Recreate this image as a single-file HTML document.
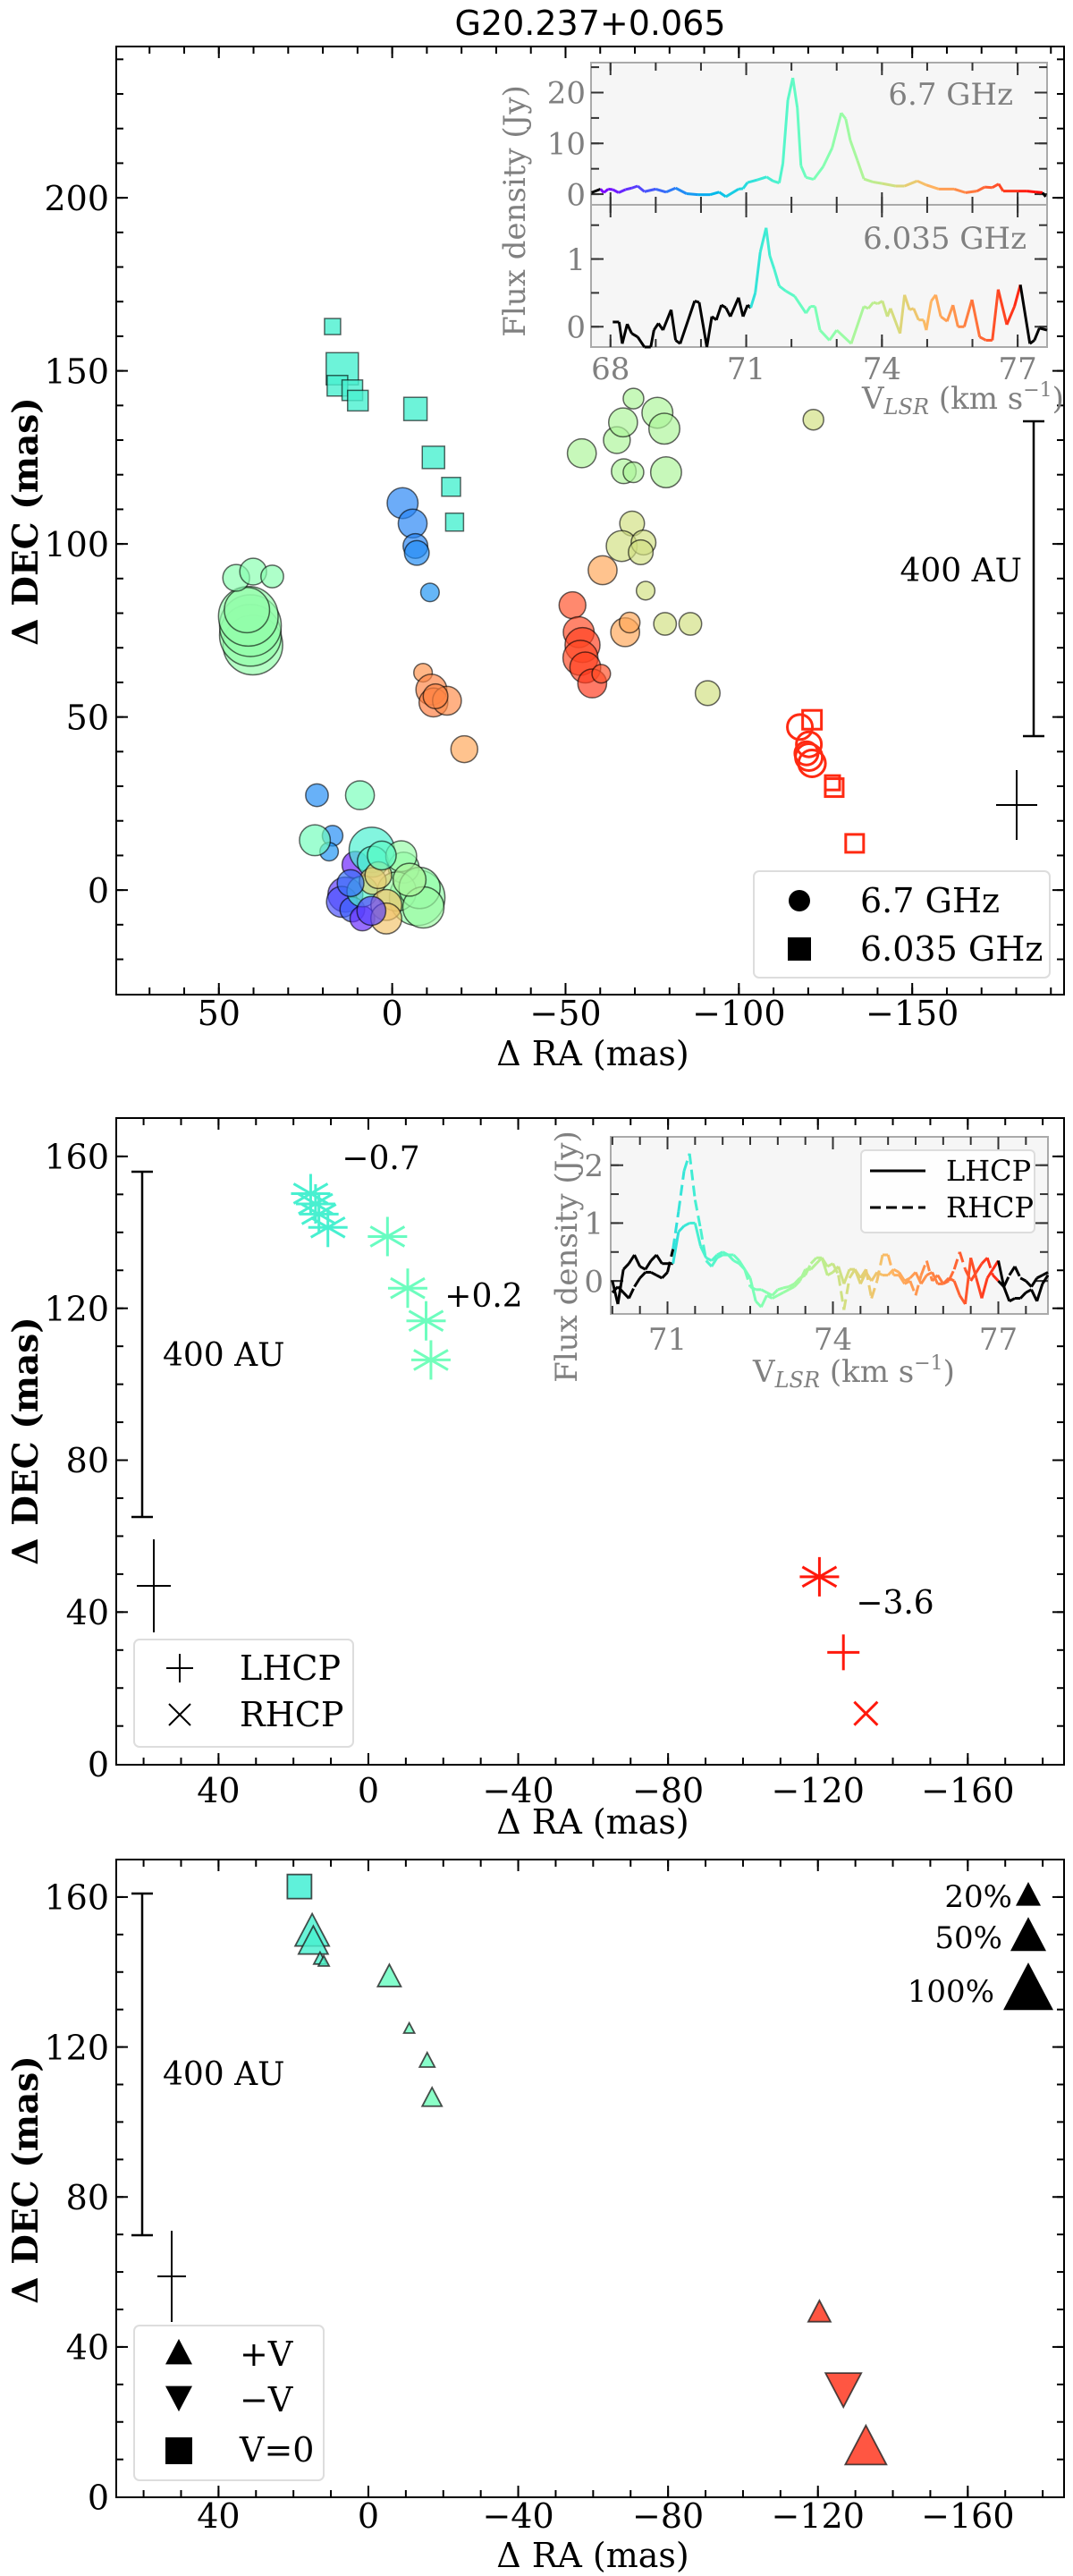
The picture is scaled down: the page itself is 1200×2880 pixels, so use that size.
<!DOCTYPE html>
<html><head><meta charset="utf-8"><title>G20.237+0.065 maser maps</title>
<style>
html,body{margin:0;padding:0;background:#fff;}
svg{display:block;}
text{font-family:"DejaVu Serif","Liberation Serif",serif;}
</style></head>
<body>
<svg id="fig" xmlns="http://www.w3.org/2000/svg" width="1200" height="2880" viewBox="0 0 1200 2880">
<rect x="0" y="0" width="1200" height="2880" fill="#fff"/>
<text x="660" y="39" font-size="38" text-anchor="middle" style="font-family:'DejaVu Sans','Liberation Sans',sans-serif">G20.237+0.065</text>
<text x="663" y="1191" font-size="38" text-anchor="middle">Δ RA (mas)</text>
<text transform="translate(42,583) rotate(-90)" font-size="39" font-weight="bold" text-anchor="middle">Δ DEC (mas)</text>
<text x="663" y="2050" font-size="38" text-anchor="middle">Δ RA (mas)</text>
<text transform="translate(42,1611) rotate(-90)" font-size="39" font-weight="bold" text-anchor="middle">Δ DEC (mas)</text>
<text x="663" y="2870" font-size="38" text-anchor="middle">Δ RA (mas)</text>
<text transform="translate(42,2437) rotate(-90)" font-size="39" font-weight="bold" text-anchor="middle">Δ DEC (mas)</text>
</svg>
<script>
// ---------- data: panel 1 (6.7 GHz circles) ----------
const c1RA  = [40.2,40.9,40.9,41.5,41.9,45.0,40.1,34.6, -3.0,-5.9,-6.7,-7.1,-10.9,21.7,17.2,18.2, 22.3,9.3, -8.9,-11.3,-11.9,-15.8,-12.5, -52.0,-53.8,-54.9,-54.3,-55.7,-57.7,-60.3, -54.7,-64.8,-66.6,-69.6,-76.5,-78.5,-66.8,-69.6,-79.0, -69.2,-66.2,-72.5,-71.7,-73.1,-78.7,-86.0,-91.0,-121.5, -60.7,-67.2,-68.5,-20.8, 13.5,14.5,11.5,10.6,8.6,8.6,5.9,5.6,-7.2,-3.3,-1.3,5.6,1.7,1.7,-2.6,4.0,-7.9,12.0,-9.0,6.0,3.0,-5.0];
const c1DEC = [70.8,73.6,76.4,79.1,80.9,90.2,92.0,90.6, 111.8,105.9,99.4,97.4,86.0,27.4,15.7,11.1, 14.4,27.4, 62.8,57.9,54.2,54.7,56.0, 82.3,74.5,70.8,67.1,64.3,59.7,62.5, 126.2,130.0,135.1,142.0,137.9,133.3,121.0,120.7,120.7, 105.9,99.4,100.4,97.6,86.5,76.9,76.9,56.9,135.9, 92.4,74.5,77.3,40.7, -1.3,-3.4,-5.6,7.3,-8.2,-0.4,11.6,8.2,-2.2,6.5,-0.4,2.6,-4.3,-8.2,9.8,4.3,0.6,2.0,-5.0,-6.0,10.0,3.0];
const c1Size= [29,30,30,29,22,13,13,11, 15,14,12,12,9,11,10,9, 15,14, 9,15,14,14,12, 13,15,17,17,15,14,9, 14,13,14,10,15,15,12,10,15, 12,15,12,12,9,11,11,12,10, 14,14,10,13, 17,15,12,13,12,15,22,15,27,15,19,13,15,15,15,13,20,13,20,14,14,16];
const c1Vel = [73.0,73.0,73.0,73.0,73.0,72.8,72.8,72.8, 69.5,69.5,69.5,69.6,69.7,69.6,69.6,69.7, 72.4,72.5, 75.6,75.8,75.9,75.7,75.8, 76.5,76.6,76.7,76.6,76.7,76.8,76.5, 73.5,73.5,73.5,73.5,73.5,73.5,73.5,73.5,73.5, 74.2,74.2,74.2,74.2,74.2,74.2,74.2,74.2,74.2, 75.3,75.3,75.3,75.3, 68.5,68.8,69.0,68.2,68.3,71.8,71.6,71.7,73.0,73.0,73.2,74.5,74.8,74.8,73.1,74.6,73.0,69.2,73.2,68.6,72.0,73.5];
// 6.035 GHz squares
const s1RA  = [17.2,14.4,15.8,11.5,9.9,-6.7,-11.9,-17.0,-18.0];
const s1DEC = [162.8,150.6,145.7,144.4,141.4,139.0,125.0,116.5,106.3];
const s1Size= [18,36,23,23,23,26,25,21,20];
const s1Vel = [71.6,71.6,71.6,71.6,71.6,71.6,71.6,71.6,71.6];
// red open markers
const rcRA  = [-117.6,-120.2,-120.2,-121.1,-119.5];
const rcDEC = [47.1,42.1,38.4,36.6,39.5];
const rcSize= [14,14,15,15,13];
const rsRA  = [-121.1,-127.5,-133.4,-127.0];
const rsDEC = [49.2,29.6,13.5,31.0];
const rsSize= [21,20,20,16];
// 6.7 GHz spectrum
const sp67V = [67.58,67.78,67.85,67.95,68.05,68.18,68.33,68.47,68.6,68.75,69.0,69.23,69.44,69.68,69.93,70.2,70.4,70.55,70.83,70.93,71.03,71.24,71.45,71.59,71.73,71.81,71.92,72.03,72.13,72.21,72.32,72.49,72.7,72.9,73.1,73.2,73.3,73.46,73.6,73.8,74.0,74.3,74.5,74.78,74.98,75.26,75.6,75.85,76.1,76.27,76.44,76.58,76.68,77.0,77.2,77.41,77.55,77.62];
const sp67F = [0.3,1.0,0.3,1.0,0.9,0.3,0.9,1.2,1.6,0.5,1.0,0.4,1.2,0.1,-0.1,-0.1,0.4,-0.5,1.0,1.1,2.3,2.8,3.4,2.6,2.2,6.0,18.5,22.9,17.0,5.6,3.3,2.9,5.4,9.1,16.0,14.8,10.6,6.6,3.0,2.4,2.1,1.6,1.6,2.6,1.8,1.0,1.0,0.3,0.6,1.4,1.3,2.0,0.6,0.6,0.6,0.4,0.3,-0.5];
// 6.035 GHz spectrum
const sp60V = [68.05,68.19,68.26,68.37,68.47,68.6,68.75,68.89,68.96,69.06,69.16,69.34,69.44,69.54,69.86,69.96,70.13,70.24,70.34,70.45,70.55,70.65,70.83,70.93,71.03,71.1,71.2,71.31,71.44,71.52,71.62,71.73,71.87,72.07,72.32,72.42,72.52,72.63,72.84,73.0,73.32,73.6,73.7,73.81,73.91,74.01,74.12,74.19,74.4,74.5,74.61,74.7,74.81,74.92,74.98,75.09,75.19,75.3,75.44,75.57,75.68,75.82,75.99,76.16,76.3,76.44,76.57,76.76,76.93,77.06,77.27,77.37,77.48,77.65];
const sp60F = [0.07,0.07,-0.25,0.04,-0.1,-0.15,-0.3,-0.3,-0.05,0.05,-0.05,0.25,-0.2,-0.25,0.38,0.36,-0.3,0.15,0.1,0.32,0.28,0.15,0.43,0.15,0.32,0.28,0.5,1.1,1.46,1.05,0.85,0.6,0.53,0.45,0.2,0.3,0.3,-0.05,-0.2,-0.05,-0.25,0.3,0.27,0.36,0.34,0.38,0.15,0.27,-0.1,0.47,0.25,0.27,0.1,0.1,-0.05,0.38,0.47,0.15,0.08,0.32,0.0,0.0,0.4,-0.15,-0.2,-0.2,0.55,0.03,0.3,0.62,-0.25,-0.2,-0.02,-0.05];
// ---------- data: panel 2 (polarization) ----------
const astRA  = [15.4,14.1,13.2,10.8,-5.1,-10.5,-15.4,-16.7,-120.4];
const astDEC = [150.2,147.5,144.8,141.3,138.9,125.3,116.7,106.4,49.3];
const astVel = [71.6,71.6,71.6,71.6,72.2,72.3,72.3,72.4,77.2];
const plusRA = [-126.8], plusDEC=[29.4], plusVel=[77.2];
const crossRA= [-132.8], crossDEC=[13.3], crossVel=[77.2];
const plVel = [70.0,70.1,70.2,70.3,70.4,70.5,70.6,70.7,70.8,70.9,71.0,71.1,71.2,71.3,71.4,71.5,71.6,71.7,71.8,71.9,72.0,72.1,72.2,72.3,72.4,72.5,72.6,72.7,72.8,72.9,73.0,73.1,73.2,73.3,73.4,73.5,73.6,73.7,73.8,73.9,74.0,74.1,74.2,74.3,74.4,74.5,74.6,74.7,74.8,74.9,75.0,75.1,75.2,75.3,75.4,75.5,75.6,75.7,75.8,75.9,76.0,76.1,76.2,76.3,76.4,76.5,76.6,76.7,76.8,76.9,77.0,77.1,77.2,77.3,77.4,77.5,77.6,77.7,77.8,77.9];
const lhcpF = [0.0,-0.4,0.2,0.3,0.45,0.25,0.2,0.35,0.45,0.3,0.3,0.3,0.85,0.95,1.0,1.0,0.6,0.4,0.35,0.45,0.5,0.45,0.45,0.35,0.2,0.05,-0.35,-0.45,-0.25,-0.3,-0.25,-0.2,-0.15,-0.1,0.0,0.2,0.2,0.3,0.4,0.1,0.15,0.25,-0.05,0.2,0.2,-0.05,0.15,0.0,0.15,0.1,0.1,0.2,0.15,0.0,0.05,0.15,-0.05,0.1,0.15,-0.05,-0.05,0.05,0.0,-0.25,-0.4,0.4,0.05,-0.3,0.05,0.2,0.35,-0.1,-0.35,-0.3,-0.3,-0.2,-0.15,-0.35,-0.05,0.1];
const rhcpF = [-0.2,-0.1,-0.2,-0.3,-0.1,0.05,0.15,0.15,0.1,0.05,0.15,0.55,1.2,1.9,2.2,1.4,0.9,0.35,0.25,0.4,0.45,0.45,0.35,0.3,0.2,-0.1,-0.15,-0.15,-0.2,-0.25,-0.15,-0.12,-0.1,-0.05,0.05,0.1,0.3,0.4,0.4,0.25,0.3,0.1,-0.5,0.05,0.2,0.05,0.2,-0.3,0.0,0.45,0.45,0.1,0.1,-0.05,0.0,-0.25,0.1,0.35,0.0,0.1,-0.05,0.0,0.2,0.5,0.2,0.0,0.15,0.3,0.4,0.1,0.0,-0.1,0.1,0.25,0.05,0.0,-0.1,0.05,0.1,0.15];
// ---------- data: panel 3 (circular polarization fraction) ----------
const triRA  = [15.0,14.7,12.9,11.9,-5.6,-10.9,-15.7,-17.0,-120.4,-132.8];
const triDEC = [150.4,147.8,143.4,142.7,138.5,124.8,116.2,106.2,49.0,12.8];
const triSize= [38,33,14,12,26,12,17,22,25,46];
const triVel = [71.6,71.6,71.7,71.8,72.2,72.3,72.3,72.4,76.9,76.9];
const dtriRA=[-126.8], dtriDEC=[29.4], dtriSize=[40], dtriVel=[76.9];
const sq3RA=[18.4], sq3DEC=[162.8], sq3Size=[27], sq3Vel=[71.5];
const pctLabels=["20%","50%","100%"];
const pctSize=[28,40,56];

const svg=document.getElementById('fig');
const NS='http://www.w3.org/2000/svg';
function mk(tag,attrs,parent){const e=document.createElementNS(NS,tag);for(const k in attrs)e.setAttribute(k,attrs[k]);(parent||svg).appendChild(e);return e;}
function lin(d0,d1,p0,p1){return v=>p0+(v-d0)*(p1-p0)/(d1-d0);}
function rainbow(v){let x=(v-67.8)/9.7;x=Math.max(0,Math.min(1,x));const r=Math.min(1,Math.abs(2*x-0.5)),g=Math.sin(Math.PI*x),b=Math.cos(Math.PI*x/2);return 'rgb('+Math.round(r*255)+','+Math.round(g*255)+','+Math.round(b*255)+')';}
function range(a,b,s){const o=[];if(s>0){for(let v=a;v<=b+1e-9;v+=s)o.push(+v.toFixed(4));}else{for(let v=a;v>=b-1e-9;v+=s)o.push(+v.toFixed(4));}return o;}

function axes(P,name){
  const g=mk('g',{});
  
  
  const X=lin(P.x0,P.x1,P.l,P.r),Y=lin(P.y0,P.y1,P.b,P.t);
  const col=P.tickCol||'#000';
  const tk=(list,len,isX)=>{list.forEach(v=>{
    if(isX){const x=X(v);if(x<P.l+1||x>P.r-1)return;
      mk('line',{x1:x,y1:P.b,x2:x,y2:P.b-len,stroke:col,'stroke-width':P.tw||2},g);
      mk('line',{x1:x,y1:P.t,x2:x,y2:P.t+len,stroke:col,'stroke-width':P.tw||2},g);}
    else{const y=Y(v);if(y<P.t+1||y>P.b-1)return;
      mk('line',{x1:P.l,y1:y,x2:P.l+len,y2:y,stroke:col,'stroke-width':P.tw||2},g);
      mk('line',{x1:P.r,y1:y,x2:P.r-len,y2:y,stroke:col,'stroke-width':P.tw||2},g);}
  });};
  tk(P.xMin,P.minLen||8,true);tk(P.xMaj,P.majLen||13,true);
  tk(P.yMin,P.minLen||8,false);tk(P.yMaj,P.majLen||13,false);
  if(P.xLab){P.xMaj.forEach(v=>{const t=mk('text',{x:X(v),y:P.xLabY,'font-size':P.fs,'text-anchor':'middle',fill:P.labCol||'#000'},g);t.textContent=(v<0?'\u2212'+(-v):''+v);
    
    });}
  if(P.yLab){P.yMaj.forEach(v=>{const y=Y(v);if(y<P.t-2||y>P.b+2)return;const t=mk('text',{x:P.l-P.yLabGap,y:y+P.fs*0.36,'font-size':P.fs,'text-anchor':'end',fill:P.labCol||'#000'},g);t.textContent=(v<0?'\u2212'+(-v):''+v);
    
    });}
  return {X,Y,g};
}
function frame(P,stroke,fill,name){const r=mk('rect',{x:P.l,y:P.t,width:P.r-P.l,height:P.b-P.t,fill:fill||'none',stroke:stroke,'stroke-width':2});
  
  return r;}
function txt(x,y,s,fs,anchor,fill,name){const t=mk('text',{x:x,y:y,'font-size':fs,'text-anchor':anchor||'start',fill:fill||'#000'});t.textContent=s;
  
  return t;}
function scaleBar(x,y1,y2,name){const g=mk('g',{stroke:'#000','stroke-width':2.5});
  
  
  mk('line',{x1:x,y1:y1,x2:x,y2:y2},g);mk('line',{x1:x-12,y1:y1,x2:x+12,y2:y1},g);mk('line',{x1:x-12,y1:y2,x2:x+12,y2:y2},g);}
function beamCross(cx,cy,hx,vy1,vy2,name){const g=mk('g',{stroke:'#000','stroke-width':2});
  
  
  mk('line',{x1:cx-hx,y1:cy,x2:cx+hx,y2:cy},g);mk('line',{x1:cx,y1:vy1,x2:cx,y2:vy2},g);}
function spectrum(V,F,X,Y,vmin,vmax,dash,name){
  const g=mk('g',{fill:'none','stroke-width':3,'stroke-linejoin':'round'});
  
  
  for(let i=0;i<V.length-1;i++){
    const vm=(V[i]+V[i+1])/2;const c=(vm<vmin||vm>vmax)?'#000':rainbow(vm);
    const l=mk('line',{x1:X(V[i]),y1:Y(F[i]),x2:X(V[i+1]),y2:Y(F[i+1]),stroke:c},g);
    if(dash)l.setAttribute('stroke-dasharray',dash);
  }
}
function tri(cx,cy,s,up){const h=s*0.95;return up?`${cx},${cy-h*0.6} ${cx-s/2},${cy+h*0.4} ${cx+s/2},${cy+h*0.4}`:`${cx},${cy+h*0.6} ${cx-s/2},${cy-h*0.4} ${cx+s/2},${cy-h*0.4}`;}

// ================= PANEL 1 =================
const P1={l:130,r:1190,t:52,b:1112,x0:79.6,x1:-193.8,y0:-30.2,y1:243.7,
  xMaj:[50,0,-50,-100,-150],xMin:range(70,-190,-10),yMaj:[0,50,100,150,200],yMin:range(-20,240,10),
  xLab:true,yLab:true,xLabY:1146,yLabGap:8,fs:38};
frame(P1,'#000',null,'panel1-frame');
const A1=axes(P1,'panel1');
const cg=mk('g',{});


c1RA.forEach((ra,i)=>{const c=mk('circle',{cx:A1.X(ra),cy:A1.Y(c1DEC[i]),r:c1Size[i]*1.15,fill:rainbow(c1Vel[i]),'fill-opacity':0.68,stroke:'#000','stroke-opacity':0.6,'stroke-width':1.5},cg);
  
  });
const sg=mk('g',{});


s1RA.forEach((ra,i)=>{const s=s1Size[i];const r=mk('rect',{x:A1.X(ra)-s/2,y:A1.Y(s1DEC[i])-s/2,width:s,height:s,fill:rainbow(s1Vel[i]),'fill-opacity':0.8,stroke:'#000','stroke-opacity':0.6,'stroke-width':1.5},sg);
  
  });
const rg=mk('g',{fill:'none',stroke:'#ff2a12','stroke-width':3});


rcRA.forEach((ra,i)=>{const c=mk('circle',{cx:A1.X(ra),cy:A1.Y(rcDEC[i]),r:rcSize[i]},rg);
  
  });
rsRA.forEach((ra,i)=>{const s=rsSize[i];const r=mk('rect',{x:A1.X(ra)-s/2,y:A1.Y(rsDEC[i])-s/2,width:s,height:s},rg);
  
  });
scaleBar(1156,471,823,'p1-scale-bar');
txt(1143,650,'400 AU',36,'end','#000','p1-scale-label');
beamCross(1137,900,23,861,939,'p1-beam-cross');
const lg1=mk('g',{});


mk('rect',{x:843,y:974,width:331,height:119,rx:6,fill:'#fff','fill-opacity':0.85,stroke:'#ddd','stroke-width':2},lg1);
mk('circle',{cx:894,cy:1007,r:12,fill:'#000'},lg1);
mk('rect',{x:881,y:1048,width:26,height:26,fill:'#000'},lg1);
txt(962,1020,'6.7 GHz',38,'start','#000','legend-6.7ghz');
txt(962,1074,'6.035 GHz',38,'start','#000','legend-6.035ghz');

const I1a={l:661,r:1171,t:70,b:229,x0:67.57,x1:77.65,y0:-2.1,y1:25.9,xMaj:[68,71,74,77],xMin:range(68,77,1),yMaj:[0,10,20],yMin:range(0,25,5),
  xLab:false,yLab:true,yLabGap:6,fs:34,labCol:'#808080',tickCol:'#333',majLen:14,minLen:9};
const I1b={l:661,r:1171,t:229,b:388,x0:67.57,x1:77.65,y0:-0.30,y1:1.8,xMaj:[68,71,74,77],xMin:range(68,77,1),yMaj:[0,1],yMin:range(0,1.5,0.5),
  xLab:true,yLab:true,xLabY:424,yLabGap:6,fs:34,labCol:'#808080',tickCol:'#333',majLen:14,minLen:9};
frame(I1a,'#aaa','#f6f6f6','inset1-top-frame');
frame(I1b,'#aaa','#f6f6f6','inset1-bottom-frame');
const B1a=axes(I1a,'inset1-top');
const B1b=axes(I1b,'inset1-bottom');
spectrum(sp67V,sp67F,B1a.X,B1a.Y,67.8,77.5,null,'spectrum-6.7ghz');
spectrum(sp60V,sp60F,B1b.X,B1b.Y,71.08,77.1,null,'spectrum-6.035ghz');
txt(1133,117,'6.7 GHz',34,'end','#808080','inset1-label-6.7');
txt(1148,278,'6.035 GHz',34,'end','#808080','inset1-label-6.035');
(function(){const t=mk('text',{transform:'translate(587,236) rotate(-90)','font-size':34,'text-anchor':'middle',fill:'#808080'});t.textContent='Flux density (Jy)';
  
  })();
function vlsr(x,y,name){const t=mk('text',{x:x,y:y,'font-size':34,'text-anchor':'middle',fill:'#808080'});
  
  
  t.innerHTML='V<tspan font-style="italic" font-size="24" dy="6">LSR</tspan><tspan dy="-6"> (km s</tspan><tspan font-size="22" dy="-14">\u22121</tspan><tspan dy="14">)</tspan>';}
vlsr(1077,457,'inset1-x-axis-title');

// ================= PANEL 2 =================
const P2={l:130,r:1190,t:1250,b:1973,x0:67.3,x1:-185.7,y0:-0.2,y1:170.1,
  xMaj:[40,0,-40,-80,-120,-160],xMin:range(60,-180,-10),yMaj:[0,40,80,120,160],yMin:range(0,170,10),
  xLab:true,yLab:true,xLabY:2015,yLabGap:8,fs:38};
frame(P2,'#000',null,'panel2-frame');
const A2=axes(P2,'panel2');
const ag=mk('g',{'stroke-width':3,fill:'none'});


astRA.forEach((ra,i)=>{const cx=A2.X(ra),cy=A2.Y(astDEC[i]),r=22,col=rainbow(astVel[i]);
  const g=mk('g',{stroke:col},ag);
  
  
  [90,30,150,0].forEach(a=>{const dx=r*Math.cos(a*Math.PI/180),dy=r*Math.sin(a*Math.PI/180);mk('line',{x1:cx-dx,y1:cy-dy,x2:cx+dx,y2:cy+dy},g);});});
plusRA.forEach((ra,i)=>{const cx=A2.X(ra),cy=A2.Y(plusDEC[i]);const g=mk('g',{stroke:rainbow(plusVel[i])},ag);
  
  
  mk('line',{x1:cx-18,y1:cy,x2:cx+18,y2:cy},g);mk('line',{x1:cx,y1:cy-20,x2:cx,y2:cy+20},g);});
crossRA.forEach((ra,i)=>{const cx=A2.X(ra),cy=A2.Y(crossDEC[i]);const g=mk('g',{stroke:rainbow(crossVel[i])},ag);
  
  
  mk('line',{x1:cx-13,y1:cy-13,x2:cx+13,y2:cy+13},g);mk('line',{x1:cx-13,y1:cy+13,x2:cx+13,y2:cy-13},g);});
txt(426,1307,'\u22120.7',36,'middle','#000','zeeman-label-1');
txt(541,1461,'+0.2',36,'middle','#000','zeeman-label-2');
txt(1001,1804,'\u22123.6',36,'middle','#000','zeeman-label-3');
scaleBar(159,1310,1696,'p2-scale-bar');
txt(182,1527,'400 AU',36,'start','#000','p2-scale-label');
beamCross(172,1773,19,1721,1825,'p2-beam-cross');
const lg2=mk('g',{});


mk('rect',{x:150,y:1833,width:245,height:120,rx:6,fill:'#fff','fill-opacity':0.85,stroke:'#ddd','stroke-width':2},lg2);
mk('line',{x1:186,y1:1865,x2:216,y2:1865,stroke:'#000','stroke-width':2},lg2);
mk('line',{x1:201,y1:1849,x2:201,y2:1881,stroke:'#000','stroke-width':2},lg2);
mk('line',{x1:189,y1:1905,x2:213,y2:1929,stroke:'#000','stroke-width':2},lg2);
mk('line',{x1:189,y1:1929,x2:213,y2:1905,stroke:'#000','stroke-width':2},lg2);
txt(268,1878,'LHCP',38,'start','#000','legend-lhcp');
txt(268,1930,'RHCP',38,'start','#000','legend-rhcp');
const I2={l:683,r:1172,t:1271,b:1469,x0:69.97,x1:77.9,y0:-0.57,y1:2.49,xMaj:[71,74,77],xMin:range(70,77.5,0.5),yMaj:[0,1,2],yMin:range(0,2.5,0.5),
  xLab:true,yLab:true,xLabY:1509,yLabGap:8,fs:34,labCol:'#808080',tickCol:'#333',majLen:14,minLen:9};
frame(I2,'#aaa','#f6f6f6','inset2-frame');
const B2=axes(I2,'inset2');
spectrum(plVel,lhcpF,B2.X,B2.Y,71.1,77.0,null,'spectrum-lhcp');
spectrum(plVel,rhcpF,B2.X,B2.Y,71.1,77.0,'12,6','spectrum-rhcp');
const lg3=mk('g',{});


mk('rect',{x:963,y:1286,width:194,height:92,rx:5,fill:'#fff','fill-opacity':0.85,stroke:'#ddd','stroke-width':2},lg3);
mk('line',{x1:973,y1:1309,x2:1035,y2:1309,stroke:'#000','stroke-width':3},lg3);
mk('line',{x1:973,y1:1350,x2:1035,y2:1350,stroke:'#000','stroke-width':3,'stroke-dasharray':'12,6'},lg3);
txt(1058,1320,'LHCP',32,'start','#000','legend-lhcp-line');
txt(1058,1361,'RHCP',32,'start','#000','legend-rhcp-line');
(function(){const t=mk('text',{transform:'translate(645,1405) rotate(-90)','font-size':34,'text-anchor':'middle',fill:'#808080'});t.textContent='Flux density (Jy)';
  
  })();
vlsr(955,1545,'inset2-x-axis-title');

// ================= PANEL 3 =================
const P3={l:130,r:1190,t:2079,b:2792,x0:67.3,x1:-185.7,y0:-0.1,y1:170,
  xMaj:[40,0,-40,-80,-120,-160],xMin:range(60,-180,-10),yMaj:[0,40,80,120,160],yMin:range(0,170,10),
  xLab:true,yLab:true,xLabY:2826,yLabGap:8,fs:38};
frame(P3,'#000',null,'panel3-frame');
const A3=axes(P3,'panel3');
const tg=mk('g',{'stroke':'#222','stroke-width':1.8,'stroke-opacity':0.8});


sq3RA.forEach((ra,i)=>{const s=sq3Size[i];const r=mk('rect',{x:A3.X(ra)-s/2,y:A3.Y(sq3DEC[i])-s/2,width:s,height:s,fill:rainbow(sq3Vel[i]),'fill-opacity':0.85},tg);
  
  });
triRA.forEach((ra,i)=>{const p=mk('polygon',{points:tri(A3.X(ra),A3.Y(triDEC[i]),triSize[i],true),fill:rainbow(triVel[i]),'fill-opacity':0.82},tg);
  
  });
dtriRA.forEach((ra,i)=>{const p=mk('polygon',{points:tri(A3.X(ra),A3.Y(dtriDEC[i]),dtriSize[i],false),fill:rainbow(dtriVel[i]),'fill-opacity':0.82},tg);
  
  });
const pctY=[2120,2166,2226],pctTX=[1132,1121,1112];
pctLabels.forEach((s,i)=>{const p=mk('polygon',{points:tri(1150,pctY[i],pctSize[i],true),fill:'#000'});
  
  
  txt(pctTX[i],pctY[i]+12,s,34,'end','#000','size-legend-label');});
scaleBar(159,2117,2499,'p3-scale-bar');
txt(182,2331,'400 AU',36,'start','#000','p3-scale-label');
beamCross(192,2545,16,2494,2596,'p3-beam-cross');
const lg4=mk('g',{});


mk('rect',{x:150,y:2600,width:212,height:173,rx:6,fill:'#fff','fill-opacity':0.85,stroke:'#ddd','stroke-width':2},lg4);
mk('polygon',{points:tri(200,2632,30,true),fill:'#000'},lg4);
mk('polygon',{points:tri(200,2679,30,false),fill:'#000'},lg4);
mk('rect',{x:185,y:2725,width:30,height:30,fill:'#000'},lg4);
txt(268,2645,'+V',38,'start','#000','legend-plus-v');
txt(268,2696,'\u2212V',38,'start','#000','legend-minus-v');
txt(268,2752,'V=0',38,'start','#000','legend-v-zero');
</script>
</body></html>
